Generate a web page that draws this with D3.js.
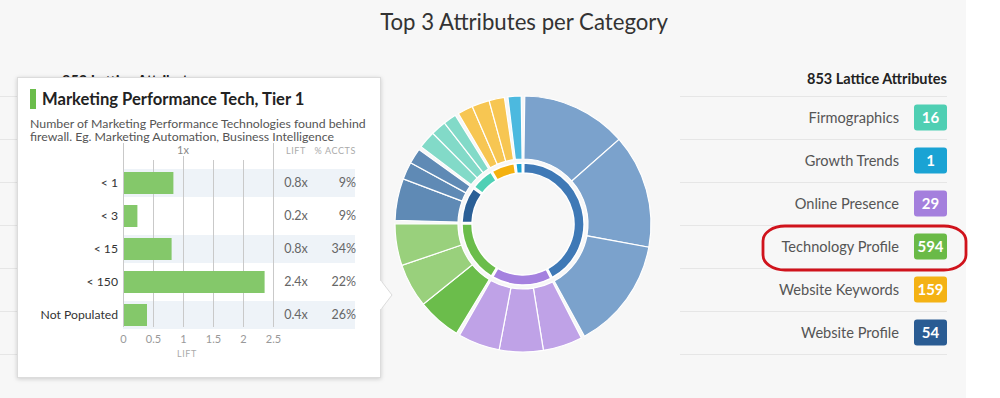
<!DOCTYPE html>
<meta charset="utf-8">
<script src="https://d3js.org/d3.v7.min.js"></script>
<style>
  body { margin: 0; background: #f7f7f7; }
  svg { display: block; font-family: Lato, "Open Sans", sans-serif; }
</style>
<body>
<div id="canvas"></div>
<script>

// lift chart inside the tooltip
var liftCategories = ["< 1", "< 3", "< 15", "< 150", "Not Populated"];
var liftValues = [0.84, 0.24, 0.81, 2.36, 0.4];
var pctAccts = [9, 9, 34, 22, 26];
var liftTicks = [0, 0.5, 1, 1.5, 2, 2.5];

// legend on the right
var legendNames = ["Firmographics", "Growth Trends", "Online Presence", "Technology Profile", "Website Keywords", "Website Profile"];
var legendCounts = [16, 1, 29, 594, 159, 54];

// donut: categories clockwise from 12 o'clock, top 3 attribute weights each
var ringCategories = ["Other", "Online Presence", "Technology Profile", "Website Profile", "Firmographics", "Website Keywords", "Growth Trends"];
var ringWeights = [[48, 52, 51], [18, 20, 19], [20, 20, 19], [19, 8, 7], [8, 7, 6], [7, 8, 7], [6]];
var hoverCategory = "Technology Profile", hoverIndex = 0;

var width = 1000, height = 398;

var badgeColor = {
	"Firmographics": "#4fcfb3", "Growth Trends": "#1aa3d4", "Online Presence": "#a47fdd",
	"Technology Profile": "#6aba47", "Website Keywords": "#f4b214", "Website Profile": "#2a5c93"
};
var innerColor = {
	"Other": "#3f79b6", "Online Presence": "#a581df", "Technology Profile": "#6bbd4b",
	"Website Profile": "#2b5f96", "Firmographics": "#4fd0b5", "Website Keywords": "#f4b10f", "Growth Trends": "#1ba5d6"
};
var outerColor = {
	"Other": "#7ba2cc", "Online Presence": "#bfa2e7", "Technology Profile": "#99d07c",
	"Website Profile": "#5f8ab5", "Firmographics": "#82dac8", "Website Keywords": "#f7c652", "Growth Trends": "#4cb9df"
};

var svg = d3.select("#canvas").append("svg")
	.attr("width", width)
	.attr("height", height);

var defs = svg.append("defs");
var shadow = defs.append("filter").attr("id", "shadow").attr("x", "-10%").attr("y", "-10%").attr("width", "120%").attr("height", "120%");
shadow.append("feDropShadow").attr("dx", 0).attr("dy", 1).attr("stdDeviation", 2)
	.attr("flood-color", "#000").attr("flood-opacity", 0.18);

svg.append("rect").attr("width", width).attr("height", height).attr("fill", "#f7f7f7");
svg.append("rect").attr("x", 966).attr("width", width - 966).attr("height", height).attr("fill", "#fff");

// title
svg.append("text")
	.attr("x", 524).attr("y", 30)
	.attr("text-anchor", "middle")
	.attr("font-size", 22.2).attr("fill", "#333")
	.text("Top 3 Attributes per Category");

// list rows (left panel mostly covered by tooltip, right panel visible)
var rowY = d3.scaleLinear().domain([0, 1]).range([96, 139]);
var rowLines = d3.range(legendNames.length + 1);

svg.append("text")
	.attr("x", 62).attr("y", 86)
	.attr("font-size", 14.5).attr("font-weight", "bold").attr("fill", "#222")
	.text("853 Lattice Attributes");
svg.selectAll(".lline").data(rowLines).enter().append("line")
	.attr("x1", 0).attr("x2", 375)
	.attr("y1", function(d){ return rowY(d) + 0.5; })
	.attr("y2", function(d){ return rowY(d) + 0.5; })
	.attr("stroke", "#e6e6e6");

svg.append("text")
	.attr("x", 947).attr("y", 84)
	.attr("text-anchor", "end")
	.attr("font-size", 14.5).attr("font-weight", "bold").attr("fill", "#222")
	.text(d3.sum(legendCounts) + " Lattice Attributes");
svg.selectAll(".rline").data(rowLines).enter().append("line")
	.attr("x1", 680).attr("x2", 947)
	.attr("y1", function(d){ return rowY(d) + 0.5; })
	.attr("y2", function(d){ return rowY(d) + 0.5; })
	.attr("stroke", "#e6e6e6");

var rows = svg.selectAll(".row").data(legendNames).enter().append("g")
	.attr("transform", function(d, i){ return "translate(0," + (rowY(i) + 21.5) + ")"; });
rows.append("text")
	.attr("x", 899).attr("dy", "0.35em")
	.attr("text-anchor", "end")
	.attr("font-size", 14.6).attr("fill", "#555")
	.text(function(d){ return d; });
rows.append("rect")
	.attr("x", 914).attr("y", -13).attr("width", 33).attr("height", 26).attr("rx", 3)
	.attr("fill", function(d){ return badgeColor[d]; });
rows.append("text")
	.attr("x", 930.5).attr("dy", "0.36em")
	.attr("text-anchor", "middle")
	.attr("font-size", 15).attr("font-weight", "bold").attr("fill", "#fff")
	.text(function(d, i){ return legendCounts[i]; });

// red hand-drawn highlight
var hl = legendNames.indexOf(hoverCategory);
svg.append("rect")
	.attr("x", 763).attr("y", rowY(hl) + 1)
	.attr("width", 203).attr("height", 44)
	.attr("rx", 22).attr("ry", 15)
	.attr("fill", "none").attr("stroke", "#d0131c").attr("stroke-width", 2.8);

// donut
var cx = 523, cy = 224;
var catGap = 1.6 * Math.PI / 180;
var total = d3.sum(ringWeights, function(w){ return d3.sum(w); });
var ang = d3.scaleLinear().domain([0, total]).range([0, 2 * Math.PI - catGap * ringCategories.length]);

var wedges = [], cats = [];
var a = catGap / 2, acc = 0;
ringCategories.forEach(function(c, ci) {
	var start = a + ang(acc);
	ringWeights[ci].forEach(function(w, wi) {
		wedges.push({ cat: c, idx: wi, startAngle: a + ang(acc), endAngle: a + ang(acc + w) });
		acc += w;
	});
	cats.push({ cat: c, startAngle: start, endAngle: a + ang(acc) });
	a += catGap;
});

var donut = svg.append("g").attr("transform", "translate(" + cx + "," + cy + ")");
var outerArc = d3.arc().innerRadius(65).outerRadius(128);
var innerArc = d3.arc().innerRadius(51).outerRadius(61);

donut.selectAll(".outer").data(wedges).enter().append("path")
	.attr("d", outerArc)
	.attr("fill", function(d){
		return (d.cat === hoverCategory && d.idx === hoverIndex) ? innerColor[d.cat] : outerColor[d.cat];
	})
	.attr("stroke", "#fff").attr("stroke-width", 1.2);

donut.selectAll(".inner").data(cats).enter().append("path")
	.attr("d", innerArc)
	.attr("fill", function(d){ return innerColor[d.cat]; })
	.attr("stroke", "#fff").attr("stroke-width", 1.5);

// tooltip
var tip = svg.append("g");
tip.append("rect")
	.attr("x", 17.5).attr("y", 77.5).attr("width", 363).attr("height", 300)
	.attr("fill", "#fff").attr("stroke", "#dcdcdc").attr("filter", "url(#shadow)");
tip.append("path")
	.attr("d", "M380.5,280 L392,295 L380.5,310")
	.attr("fill", "#fff").attr("stroke", "#dcdcdc");
tip.append("line")
	.attr("x1", 380.5).attr("x2", 380.5).attr("y1", 281).attr("y2", 309)
	.attr("stroke", "#fff").attr("stroke-width", 1.5);

tip.append("rect")
	.attr("x", 30).attr("y", 89).attr("width", 6).attr("height", 20)
	.attr("fill", innerColor[hoverCategory]);
tip.append("text")
	.attr("x", 42).attr("y", 105)
	.attr("font-size", 16.6).attr("font-weight", "bold").attr("fill", "#222")
	.text("Marketing Performance Tech, Tier 1");
tip.append("text")
	.attr("x", 30).attr("y", 128)
	.attr("font-size", 12.3).attr("fill", "#555")
	.text("Number of Marketing Performance Technologies found behind");
tip.append("text")
	.attr("x", 30).attr("y", 141)
	.attr("font-size", 12.3).attr("fill", "#555")
	.text("firewall. Eg. Marketing Automation, Business Intelligence");

var x = d3.scaleLinear().domain([0, 2.5]).range([123, 273]);
var y = d3.scaleBand().domain(liftCategories).range([166.5, 331.5]);

// stripes
tip.selectAll(".stripe").data(liftCategories.filter(function(d, i){ return i % 2 === 0; }))
	.enter().append("rect")
	.attr("x", x(0)).attr("width", 355 - x(0))
	.attr("y", function(d){ return y(d) + 2.5; })
	.attr("height", 28)
	.attr("fill", "#eef3f8");

// grid lines
tip.selectAll(".grid").data(liftTicks).enter().append("line")
	.attr("x1", function(d){ return x(d) + 0.5; })
	.attr("x2", function(d){ return x(d) + 0.5; })
	.attr("y1", function(d){ return (d === 0 || d === 2.5) ? 143 : (d === 1 ? 156 : 160); })
	.attr("y2", 327)
	.attr("stroke", "#c9c9c9");

tip.selectAll(".bar").data(liftValues).enter().append("rect")
	.attr("x", x(0) + 1)
	.attr("y", function(d, i){ return y(liftCategories[i]) + 5.5; })
	.attr("width", function(d){ return x(d) - x(0) - 1; })
	.attr("height", 22)
	.attr("fill", "#84c86a");

tip.selectAll(".cat").data(liftCategories).enter().append("text")
	.attr("x", 118)
	.attr("y", function(d){ return y(d) + y.bandwidth() / 2; })
	.attr("dy", "0.35em")
	.attr("text-anchor", "end")
	.attr("font-size", 12.2).attr("fill", "#333")
	.text(function(d){ return d; });

var fmt = d3.format(".1f");
tip.selectAll(".liftv").data(liftValues).enter().append("text")
	.attr("x", 296)
	.attr("y", function(d, i){ return y(liftCategories[i]) + y.bandwidth() / 2; })
	.attr("dy", "0.35em")
	.attr("text-anchor", "middle")
	.attr("font-size", 12.5).attr("fill", "#666")
	.text(function(d){ return fmt(d) + "x"; });
tip.selectAll(".pct").data(pctAccts).enter().append("text")
	.attr("x", 356)
	.attr("y", function(d, i){ return y(liftCategories[i]) + y.bandwidth() / 2; })
	.attr("dy", "0.35em")
	.attr("text-anchor", "end")
	.attr("font-size", 12.5).attr("fill", "#666")
	.text(function(d){ return d + "%"; });

tip.append("text").attr("x", 296).attr("y", 154).attr("text-anchor", "middle")
	.attr("font-size", 9).attr("fill", "#aaa").attr("letter-spacing", 0.6).text("LIFT");
tip.append("text").attr("x", 356).attr("y", 154).attr("text-anchor", "end")
	.attr("font-size", 9).attr("fill", "#aaa").attr("letter-spacing", 0.6).text("% ACCTS");
tip.append("text").attr("x", x(1)).attr("y", 154).attr("text-anchor", "middle")
	.attr("font-size", 11).attr("fill", "#888").text("1x");

var axis = tip.append("g")
	.attr("transform", "translate(0,332)")
	.call(d3.axisBottom(x).tickValues(liftTicks).tickSize(0).tickFormat(d3.format("")));
axis.select(".domain").remove();
axis.selectAll("text").attr("font-family", "Lato, sans-serif").attr("font-size", 11).attr("fill", "#999");

tip.append("text").attr("x", 187).attr("y", 357).attr("text-anchor", "middle")
	.attr("font-size", 9).attr("fill", "#aaa").attr("letter-spacing", 0.6).text("LIFT");

</script>
</body>
